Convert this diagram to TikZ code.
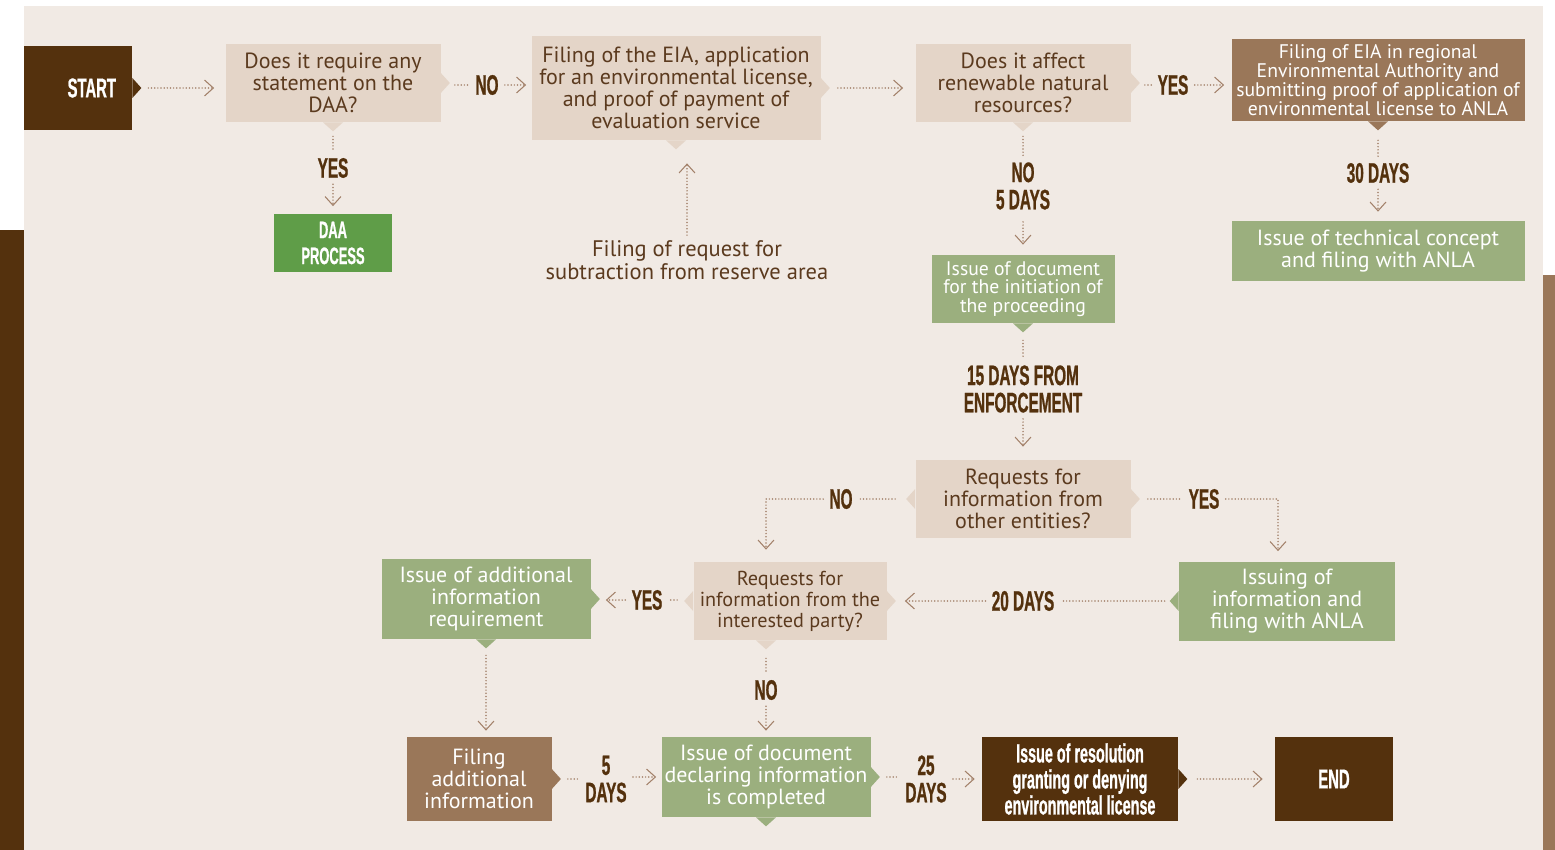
\documentclass[tikz,border=0pt]{standalone}
\usepackage{fontspec}
\setmainfont{PT Sans}
\newfontfamily\labelfont[FakeStretch=0.545,FakeBold=0.8]{Liberation Sans}
\usetikzlibrary{arrows.meta,positioning,calc}

\definecolor{panelbg}{HTML}{F1EAE4}
\definecolor{askfill}{HTML}{E4D5C8}
\definecolor{darkbrown}{HTML}{54310D}
\definecolor{midbrown}{HTML}{9A7759}
\definecolor{daagreen}{HTML}{5F9D48}
\definecolor{sage}{HTML}{9BAF7E}
\definecolor{inktext}{HTML}{5B3A1E}
\definecolor{dotc}{HTML}{A3816A}

% small pointer notches on the box sides (coordinates in px)
\newcommand\ptrE[2]{\fill[#2] (#1) ++(0,-10) -- ++(9,10) -- ++(-9,10) -- cycle;}
\newcommand\ptrW[2]{\fill[#2] (#1) ++(0,-10) -- ++(-9,10) -- ++(9,10) -- cycle;}
\newcommand\ptrS[2]{\fill[#2] (#1) ++(-10,0) -- ++(10,9) -- ++(10,-9) -- cycle;}

\begin{document}
\begin{tikzpicture}[
  x=0.2mm,
  y=-0.2mm,
  >={Straight Barb[length=5pt,width=9pt,line width=0.6pt]},
  link/.style={draw=dotc, line width=0.95pt, line cap=round, dash pattern=on 0pt off 1.8pt},
  flow/.style={link, ->},
  ask/.style={fill=askfill, text=inktext, align=center, inner sep=0pt,
    font=\fontsize{12.5}{12.5}\selectfont},
  sagebox/.style={fill=sage, text=white, align=center, inner sep=0pt,
    font=\fontsize{12.5}{12.5}\selectfont},
  brownbox/.style={fill=midbrown, text=white, align=center, inner sep=0pt,
    font=\fontsize{12.5}{12.5}\selectfont},
  term/.style={fill=darkbrown, text=white, align=center, inner sep=0pt,
    font=\labelfont\bfseries\fontsize{15.5}{16}\selectfont},
  daa/.style={fill=daagreen, text=white, align=center, inner sep=0pt,
    font=\labelfont\bfseries\fontsize{13.5}{14.8}\selectfont},
  tag/.style={text=darkbrown, align=center, inner sep=1.2mm,
    font=\labelfont\bfseries\fontsize{16}{15.5}\selectfont},
  note/.style={text=inktext, align=center, inner sep=1mm,
    font=\fontsize{12.8}{13}\selectfont}
]

% background
\useasboundingbox (0,0) rectangle (1555,850);
\fill[white] (0,0) rectangle (1555,850);
\fill[darkbrown] (0,230) rectangle (24,850);
\fill[midbrown] (1543,275) rectangle (1555,850);
\fill[panelbg] (24,6) rectangle (1543,850);

% top row
\node[term, text width=15.2mm, inner xsep=3.2mm, align=right, minimum height=16.8mm]
  (start) at (78,88) {START};
\node[ask, minimum width=43mm, minimum height=15.6mm] (q1) at (333,83)
  {Does it require any\\statement on the\\DAA?};
\node[tag] (no1) at (487,85) {NO};
\node[ask, minimum width=57.8mm, minimum height=20.8mm] (q2) at (676,88)
  {Filing of the EIA, application\\for an environmental license,\\and proof of payment of\\evaluation service};
\node[tag] (yes1) at (333,168) {YES};
\node[daa, minimum width=23.6mm, minimum height=11.4mm] (daabox) at (333,243) {DAA\\PROCESS};
\node[note] (sub) at (687,260) {Filing of request for\\subtraction from reserve area};
\node[ask, minimum width=43mm, minimum height=15.6mm] (q3) at (1023,83)
  {Does it affect\\renewable natural\\resources?};
\node[tag] (yes2) at (1173,85) {YES};
\node[brownbox, minimum width=58.6mm, minimum height=16.4mm,
  font=\fontsize{11.2}{10.7}\selectfont] (regional) at (1378,80)
  {Filing of EIA in regional\\Environmental Authority and\\submitting proof of application of\\environmental license to ANLA};
\node[tag] (days30) at (1378,173) {30 DAYS};
\node[sagebox, minimum width=58.6mm, minimum height=12mm] (concept) at (1378,251)
  {Issue of technical concept\\and filing with ANLA};

% middle column
\node[tag] (no2) at (1023,186) {NO\\5 DAYS};
\node[sagebox, minimum width=36.6mm, minimum height=13.6mm,
  font=\fontsize{11.2}{10.6}\selectfont] (initiation) at (1023,289)
  {Issue of document\\for the initiation of\\the proceeding};
\node[tag] (days15) at (1023,389) {15 DAYS FROM\\ENFORCEMENT};
\node[ask, minimum width=43mm, minimum height=15.6mm] (q5) at (1023,499)
  {Requests for\\information from\\other entities?};
\node[tag] (no3) at (841,499) {NO};
\node[tag] (yes3) at (1204,499) {YES};
\node[sagebox, minimum width=43.2mm, minimum height=15.8mm] (issuing) at (1287,601)
  {Issuing of\\information and\\filing with ANLA};
\node[tag] (days20) at (1023,601) {20 DAYS};
\node[ask, minimum width=38.6mm, minimum height=15.6mm,
  font=\fontsize{11.5}{12}\selectfont] (q6) at (790,601)
  {Requests for\\information from the\\interested party?};
\node[tag] (yes4) at (647,600) {YES};
\node[sagebox, minimum width=41.8mm, minimum height=16mm] (additional) at (486,599)
  {Issue of additional\\information\\requirement};
\node[tag] (no4) at (766,690) {NO};

% bottom row
\node[brownbox, minimum width=29mm, minimum height=16.8mm] (filing) at (479,779)
  {Filing\\additional\\information};
\node[tag] (days5) at (606,779) {5\\DAYS};
\node[sagebox, minimum width=41.8mm, minimum height=16mm] (declared) at (766,777)
  {Issue of document\\declaring information\\is completed};
\node[tag] (days25) at (926,779) {25\\DAYS};
\node[term, minimum width=39.2mm, minimum height=16.8mm,
  font=\labelfont\bfseries\fontsize{15}{14.8}\selectfont] (resolution) at (1080,779)
  {Issue of resolution\\granting or denying\\environmental license};
\node[term, minimum width=23.6mm, minimum height=16.8mm] (finish) at (1334,779) {END};

% pointers
\ptrE{start.east}{darkbrown}
\ptrE{q1.east}{askfill}
\ptrS{q1.south}{askfill}
\ptrE{q2.east}{askfill}
\ptrS{q2.south}{askfill}
\ptrE{q3.east}{askfill}
\ptrS{q3.south}{askfill}
\ptrS{regional.south}{midbrown}
\ptrS{initiation.south}{sage}
\ptrW{q5.west}{askfill}
\ptrE{q5.east}{askfill}
\ptrW{issuing.west}{sage}
\ptrW{q6.west}{askfill}
\ptrE{q6.east}{askfill}
\ptrS{q6.south -| declared.north}{askfill}
\ptrE{additional.east}{sage}
\ptrS{additional.south}{sage}
\ptrE{filing.east}{midbrown}
\ptrE{declared.east}{sage}
\ptrS{declared.south}{sage}
\ptrE{resolution.east}{darkbrown}

% connectors
\draw[flow, shorten <=3.2mm, shorten >=2.2mm] (start.east) -- (start.east -| q1.west);
\draw[link, shorten <=2.8mm] (q1.east |- no1.west) -- (no1.west);
\draw[flow, shorten >=1mm] (no1.east) -- (no1.east -| q2.west);
\draw[link, shorten <=2.8mm] (q1.south) -- (yes1.north);
\draw[flow, shorten >=1.6mm] (yes1.south) -- (daabox.north);
\draw[flow, shorten >=4.6mm] (sub.north) -- (sub.north |- q2.south);
\draw[flow, shorten <=3.4mm, shorten >=2.4mm] (q2.east) -- (q2.east -| q3.west);
\draw[link, shorten <=2.8mm] (q3.east |- yes2.west) -- (yes2.west);
\draw[flow, shorten >=1.4mm] (yes2.east) -- (yes2.east -| regional.west);
\draw[link, shorten <=3.8mm] (regional.south) -- (days30.north);
\draw[flow, shorten >=1.8mm] (days30.south) -- (concept.north);
\draw[link, shorten <=2.8mm] (q3.south) -- (no2.north);
\draw[flow, shorten <=1.2mm, shorten >=2mm] (no2.south) -- (initiation.north);
\draw[link, shorten <=3.4mm] (initiation.south) -- (days15.north);
\draw[flow, shorten >=2.6mm] (days15.south) -- (q5.north);
\draw[link, shorten <=4mm] (q5.west) -- (no3.east);
\draw[flow, shorten >=2.4mm] (no3.west) -| (q6.north -| declared.north);
\draw[link, shorten <=3.4mm] (q5.east) -- (yes3.west);
\draw[flow, shorten >=2mm] (yes3.east) -| ([xshift=-1.8mm]issuing.north);
\draw[link, shorten <=2.8mm] (issuing.west) -- (days20.east);
\draw[flow, shorten >=3.6mm] (days20.west) -- (q6.east);
\draw[link, shorten <=3.2mm] (q6.west |- yes4.east) -- (yes4.east);
\draw[flow, shorten >=3mm] (yes4.west) -- (yes4.west -| additional.east);
\draw[flow, shorten <=3.2mm, shorten >=1.2mm] (additional.south) -- (additional.south |- filing.north);
\draw[link, shorten <=3.6mm] (q6.south -| declared.north) -- (no4.north);
\draw[flow, shorten >=1.2mm] (no4.south) -- (declared.north);
\draw[link, shorten <=3.2mm] (filing.east) -- (days5.west);
\draw[flow, shorten >=1mm] (days5.east |- declared.west) -- (declared.west);
\draw[link, shorten <=3.2mm] (declared.east) -- (days25.west |- declared.east);
\draw[flow, shorten >=1.4mm] (days25.east) -- (days25.east -| resolution.west);
\draw[flow, shorten <=3.8mm, shorten >=2.4mm] (resolution.east) -- (finish.west);

\end{tikzpicture}
\end{document}
